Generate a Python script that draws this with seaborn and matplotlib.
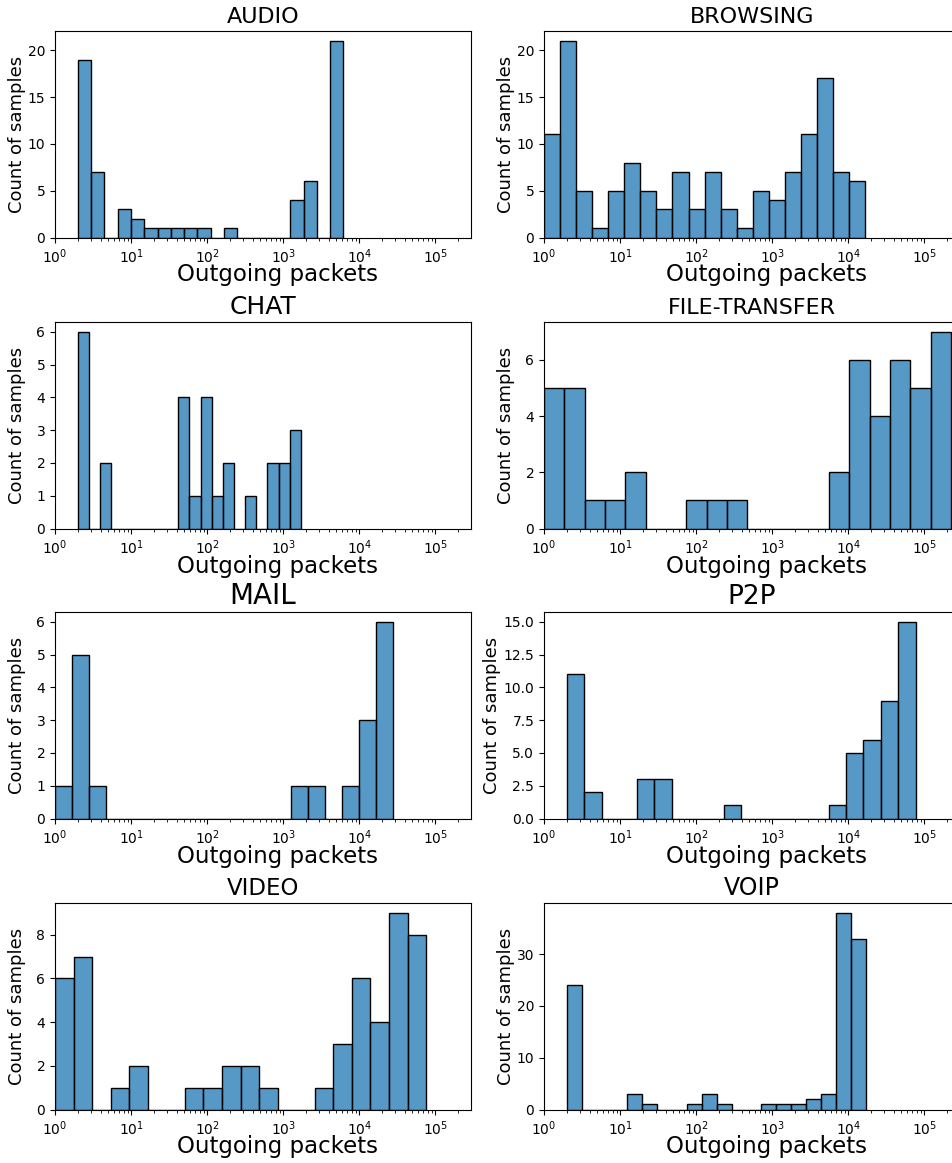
import numpy as np
import pandas as pd
import matplotlib
matplotlib.use("Agg")
import matplotlib.pyplot as plt
import seaborn as sns

# ---- data ----
categories = ["AUDIO", "BROWSING", "CHAT", "FILE-TRANSFER", "MAIL", "P2P", "VIDEO", "VOIP"]

audio_counts = [19, 7, 0, 3, 2, 1, 1, 1, 1, 1, 0, 1, 0, 0, 0, 0, 4, 6, 0, 21]
browsing_counts = [11, 21, 5, 1, 5, 8, 5, 3, 7, 3, 7, 3, 1, 5, 4, 7, 11, 17, 7, 6]
chat_counts = [6, 0, 2, 0, 0, 0, 0, 0, 0, 4, 1, 4, 1, 2, 0, 1, 0, 2, 2, 3]
file_transfer_counts = [5, 5, 1, 1, 2, 0, 0, 1, 1, 1, 0, 0, 0, 0, 2, 6, 4, 6, 5, 7]
mail_counts = [1, 5, 1, 0, 0, 0, 0, 0, 0, 0, 0, 0, 0, 0, 1, 1, 0, 1, 3, 6]
p2p_counts = [11, 2, 0, 0, 3, 3, 0, 0, 0, 1, 0, 0, 0, 0, 0, 1, 5, 6, 9, 15]
video_counts = [6, 7, 0, 1, 2, 0, 0, 1, 1, 2, 2, 1, 0, 0, 1, 3, 6, 4, 9, 8]
voip_counts = [24, 0, 0, 0, 3, 1, 0, 0, 1, 3, 1, 0, 0, 1, 1, 1, 2, 3, 38, 33]

# lowest / highest observed packet count per category (histogram range)
bin_low = [2, 1, 2, 1, 1, 2, 1, 2]
bin_high = [6200, 16750, 1708, 224000, 27700, 77300, 75900, 17260]

title_sizes = [16, 16, 18, 16, 20, 19, 16.5, 17]

all_counts = [audio_counts, browsing_counts, chat_counts, file_transfer_counts,
              mail_counts, p2p_counts, video_counts, voip_counts]

# ---- figure ----
W, H = 953, 1163
fig = plt.figure(figsize=(W / 100, H / 100), dpi=100)

left_px = [55, 544]
width_px = 416
top_px = [31, 322, 612, 903]
height_px = 206.5
ylabel_offset_px = [-29, -29, -29, -29, -29, -43, -29, -29]

for i, (cat, counts) in enumerate(zip(categories, all_counts)):
    r, c = divmod(i, 2)
    ax = fig.add_axes([left_px[c] / W, 1 - (top_px[r] + height_px) / H,
                       width_px / W, height_px / H])
    n = len(counts)
    edges_log = np.linspace(np.log10(bin_low[i]), np.log10(bin_high[i]), n + 1)
    centers = 10 ** ((edges_log[:-1] + edges_log[1:]) / 2)
    df = pd.DataFrame({"packets": centers, "count": counts})
    sns.histplot(data=df, x="packets", weights="count", bins=edges_log.tolist(),
                 log_scale=True, ax=ax, color="#1f77b4", edgecolor="black",
                 linewidth=1.0)
    ax.set_xlim(1, 10 ** 5.47)
    ax.set_title(cat, fontsize=title_sizes[i])
    ax.set_xlabel("Outgoing packets", fontsize=16.5)
    ax.set_ylabel("Count of samples", fontsize=13)
    ax.xaxis.set_label_coords(0.5 + 15 / width_px, -26 / height_px)
    ax.yaxis.set_label_coords(ylabel_offset_px[i] / width_px, 0.5)
    ax.tick_params(labelsize=10)

fig.savefig("out.png", dpi=100)
